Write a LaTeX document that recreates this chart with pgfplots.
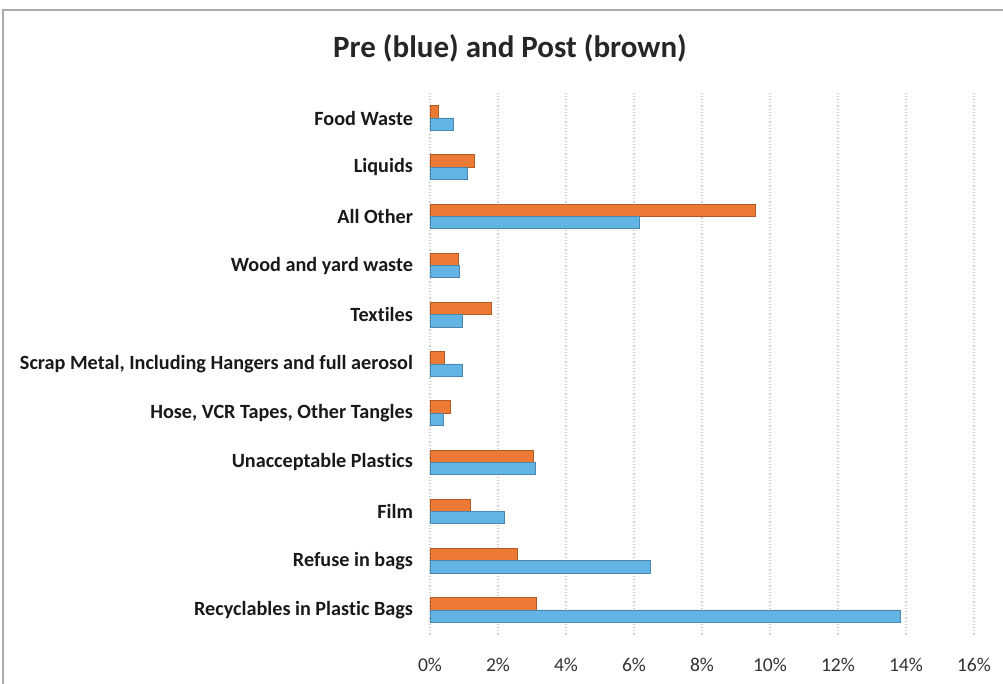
\documentclass[border=0pt]{standalone}
\usepackage{pgfplots}
\pgfplotsset{compat=1.18}
\usepackage{fontspec}
\setmainfont[Ligatures={TeX,NoCommon}]{Carlito}
\definecolor{postc}{RGB}{236,122,52}
\definecolor{prec}{RGB}{98,180,228}
\definecolor{gridc}{RGB}{205,205,205}
\definecolor{framec}{RGB}{170,170,170}
\begin{document}
\begin{tikzpicture}[x=0.5pt,y=0.5pt]
\useasboundingbox (-430,-49.4) rectangle (573,634.6);
\draw[framec, line width=0.6pt] (-427,-49.4) -- (-427,624.6) -- (573,624.6);
\node[font=\bfseries\fontsize{15.5}{18}\selectfont, text=black!85] at (80,586.6) {Pre (blue) and Post (brown)};
\begin{axis}[
  at={(0,0)}, anchor=south west,
  scale only axis,
  width=272pt, height=270.6pt,
  xbar, bar width=0.25,
  xmin=0, xmax=16, ymin=-0.5, ymax=10.5,
  xtick={0,2,...,16},
  xticklabels={0\%,2\%,4\%,6\%,8\%,10\%,12\%,14\%,16\%},
  ytick={0,...,10},
  yticklabels={Recyclables in Plastic Bags,Refuse in bags,Film,Unacceptable Plastics,{Hose, VCR Tapes, Other Tangles},{Scrap Metal, Including Hangers and full aerosol},Textiles,Wood and yard waste,All Other\ ,Liquids,Food Waste},
  axis line style={draw=none},
  major tick length=0pt,
  xmajorgrids, major grid style={gridc, line width=0.6pt, densely dotted},
  xticklabel style={font=\fontsize{9.8}{11}\selectfont, text=black!80, yshift=-8pt},
  yticklabel style={font=\bfseries\fontsize{10.1}{12}\selectfont, text=black!90, xshift=-5pt},
  /pgf/number format/assume math mode=true,
  clip=false,
]
\addplot[fill=postc, draw=postc!75!black, line width=0.4pt, bar shift=0.125] coordinates {
(3.12,0) (2.58,1) (1.20,2) (3.04,3) (0.61,4) (0.42,5) (1.81,6) (0.85,7) (9.58,8) (1.32,9) (0.24,10)};
\addplot[fill=prec, draw=prec!75!black, line width=0.4pt, bar shift=-0.125] coordinates {
(13.83,0) (6.49,1) (2.18,2) (3.10,3) (0.38,4) (0.95,5) (0.96,6) (0.87,7) (6.15,8) (1.10,9) (0.70,10)};
\end{axis}
\end{tikzpicture}
\end{document}
